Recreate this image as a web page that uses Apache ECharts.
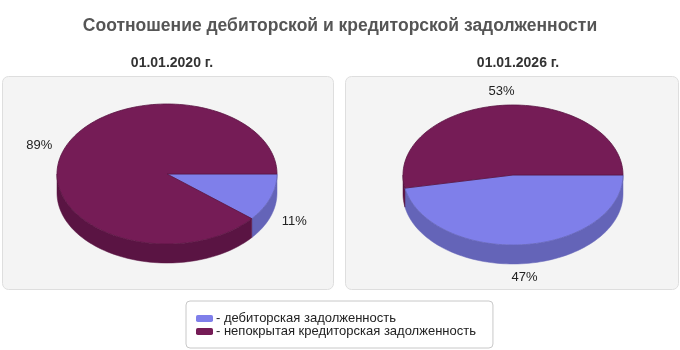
<!DOCTYPE html>
<html>
<head>
<meta charset="utf-8">
<script src="https://cdn.jsdelivr.net/npm/echarts@6/dist/echarts.min.js"></script>
<style>
  html, body { margin: 0; padding: 0; background: #fff; }
  #chart { width: 680px; height: 350px; }
</style>
</head>
<body>
<div id="chart"></div>
<script>
// данные
const categories = ['дебиторская задолженность', 'непокрытая кредиторская задолженность'];
const dates = ['01.01.2020 г.', '01.01.2026 г.'];
const values2020 = [11, 89];
const values2026 = [47, 53];

const topColors = ['#7f7fea', '#751c56'];
const sideColors = ['#6464b8', '#5a1443'];
const FONT = '"Liberation Sans", Arial, sans-serif';

// геометрия псевдо-3D круговых диаграмм
const pies = [
  { values: values2020, cx: 167, cy: 174, rx: 110, ry: 70, depth: 19 },
  { values: values2026, cx: 513, cy: 175, rx: 110, ry: 70, depth: 19 }
];

// [начало, конец] в процентах
function toRanges(values) {
  const total = values.reduce((a, b) => a + b, 0);
  let acc = 0;
  return values.map(v => {
    const s = acc;
    acc += v / total * 100;
    return [s, acc];
  });
}

function arc(p, a1, a2, dy) {
  const pts = [];
  const n = Math.max(2, Math.ceil((a2 - a1) / (Math.PI / 90)));
  for (let i = 0; i <= n; i++) {
    const t = a1 + (a2 - a1) * i / n;
    pts.push([p.cx + p.rx * Math.cos(t), p.cy + p.ry * Math.sin(t) + dy]);
  }
  return pts;
}

function makeRender(p) {
  return function (params, api) {
    const i = params.dataIndex;
    const a1 = api.value(0) / 100 * Math.PI * 2;
    const a2 = api.value(1) / 100 * Math.PI * 2;
    const children = [];

    // верх
    children.push({
      type: 'polygon',
      z2: 10,
      shape: { points: [[p.cx, p.cy]].concat(arc(p, a1, a2, 0)) },
      style: { fill: topColors[i], stroke: sideColors[i], lineWidth: 0.8 }
    });

    // боковая стенка (только передняя половина)
    const s = Math.max(a1, 0), e = Math.min(a2, Math.PI);
    if (e > s) {
      const topArc = arc(p, s, e, 0);
      const botArc = arc(p, s, e, p.depth).reverse();
      children.push({
        type: 'polygon',
        z2: 5,
        shape: { points: topArc.concat(botArc) },
        style: { fill: sideColors[i], stroke: sideColors[i], lineWidth: 0.5 }
      });
    }

    // подпись
    const m = (a1 + a2) / 2;
    const c = Math.cos(m), sn = Math.sin(m);
    children.push({
      type: 'text',
      z2: 20,
      style: {
        x: p.cx + (p.rx + 12) * c,
        y: p.cy + (p.ry + 14) * sn + (sn > 0 ? p.depth : 0),
        text: p.values[i] + '%',
        align: c > 0.3 ? 'left' : (c < -0.3 ? 'right' : 'center'),
        verticalAlign: 'middle',
        fill: '#222',
        font: '13px ' + FONT
      }
    });

    return { type: 'group', children: children };
  };
}

const chart = echarts.init(document.getElementById('chart'), null, { renderer: 'canvas' });

const series = pies.map((p, k) => ({
  type: 'custom',
  name: dates[k],
  coordinateSystem: 'none',
  silent: true,
  data: toRanges(p.values),
  renderItem: makeRender(p)
}));

// скрытый pie только для легенды
series.push({
  type: 'pie',
  radius: [0, 0],
  silent: true,
  label: { show: false },
  labelLine: { show: false },
  data: categories.map((name, i) => ({ name: name, value: 1, itemStyle: { color: topColors[i] } }))
});

chart.setOption({
  animation: false,
  textStyle: { fontFamily: FONT },
  title: [
    {
      text: 'Соотношение дебиторской и кредиторской задолженности',
      left: 'center', top: 12,
      textStyle: { fontSize: 17.5, fontWeight: 'bold', color: '#555', fontFamily: FONT }
    },
    {
      text: dates[0], left: 167, top: 51, textAlign: 'center',
      textStyle: { fontSize: 14, fontWeight: 'bold', color: '#333', fontFamily: FONT }
    },
    {
      text: dates[1], left: 513, top: 51, textAlign: 'center',
      textStyle: { fontSize: 14, fontWeight: 'bold', color: '#333', fontFamily: FONT }
    }
  ],
  graphic: [
    {
      type: 'rect', z: -10, silent: true,
      shape: { x: 2.5, y: 76.5, width: 331, height: 213, r: 6 },
      style: { fill: '#f4f4f4', stroke: '#dedede', lineWidth: 1 }
    },
    {
      type: 'rect', z: -10, silent: true,
      shape: { x: 345.5, y: 76.5, width: 333, height: 213, r: 6 },
      style: { fill: '#f4f4f4', stroke: '#dedede', lineWidth: 1 }
    }
  ],
  legend: {
    orient: 'vertical',
    left: 186, top: 301,
    data: categories,
    icon: 'roundRect',
    itemWidth: 17, itemHeight: 7, itemGap: 0,
    padding: [11, 17, 10, 10],
    backgroundColor: '#fff',
    borderColor: '#c8c8c8', borderWidth: 1, borderRadius: 4,
    selectedMode: false,
    formatter: '- {name}',
    textStyle: { fontSize: 13, lineHeight: 13, color: '#222', fontFamily: FONT, padding: [0, 0, 0, -2] }
  },
  series: series
});
</script>
</body>
</html>
